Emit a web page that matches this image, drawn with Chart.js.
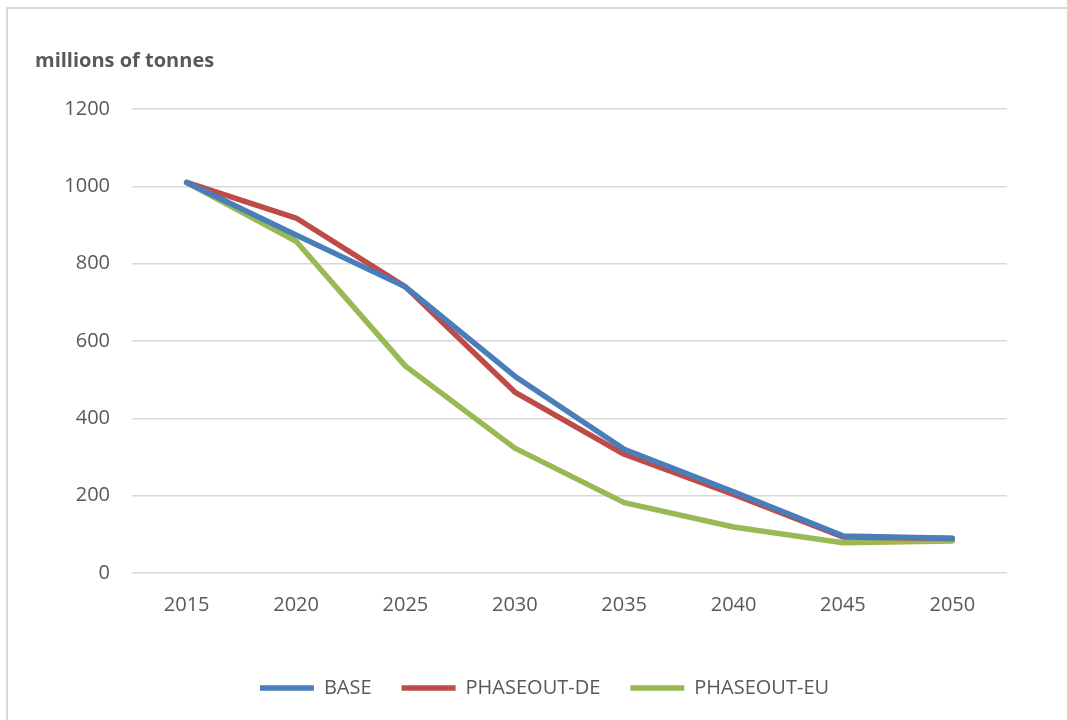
<!DOCTYPE html>
<html>
<head>
<meta charset="utf-8">
<script src="https://cdn.jsdelivr.net/npm/chart.js@4"></script>
<style>
  body { margin: 0; background: #fff; }
  .frame { position: absolute; left: 6px; top: 7px; width: 1100px; height: 760px; border: 2px solid #d9d9d9; }
  .unit { position: absolute; left: 35px; top: 46px; font: bold 20px 'Open Sans', sans-serif; color: #595959; }
  #wrap { position: absolute; left: 0; top: 0; width: 1067px; height: 720px; }
</style>
</head>
<body>
<div class="frame"></div>
<div id="wrap"><canvas id="coal"></canvas></div>
<div class="unit">millions of tonnes</div>
<script>
// anos e cenarios
const years = ['2015', '2020', '2025', '2030', '2035', '2040', '2045', '2050'];
const base = [1010, 874, 740, 509, 320, 210, 96, 90];
const phaseoutDE = [1010, 918, 740, 468, 307, 203, 93, 89];
const phaseoutEU = [1010, 858, 535, 323, 182, 119, 78, 83];
const yTicks = [0, 200, 400, 600, 800, 1000, 1200];

Chart.defaults.font.family = "'Open Sans', sans-serif";
Chart.defaults.font.size = 20;
Chart.defaults.color = '#595959';

function serie(label, data, color) {
    return {
        label: label,
        data: data,
        borderColor: color,
        backgroundColor: color,
        borderWidth: 5.5,
        borderCapStyle: 'round',
        borderJoinStyle: 'round',
        pointRadius: 0,
        pointHoverRadius: 0,
        tension: 0,
        fill: false
    };
}

const ctx = document.getElementById('coal');

new Chart(ctx, {
    type: 'line',
    data: {
        labels: years,
        datasets: [
            serie('BASE', base, '#4a7ebb'),
            serie('PHASEOUT-DE', phaseoutDE, '#be4b48'),
            serie('PHASEOUT-EU', phaseoutEU, '#98b954')
        ]
    },
    options: {
        responsive: true,
        maintainAspectRatio: false,
        animation: false,
        layout: { padding: { top: 109, left: 22, right: 0, bottom: 12 } },
        plugins: {
            tooltip: { enabled: false },
            legend: {
                position: 'bottom',
                labels: {
                    usePointStyle: true,
                    pointStyle: 'line',
                    pointStyleWidth: 54,
                    padding: 30,
                    color: '#595959',
                    font: { size: 20 }
                }
            }
        },
        scales: {
            x: {
                offset: true,
                grid: { display: false, drawTicks: false },
                border: { display: false },
                ticks: { padding: 20, maxRotation: 0 },
                afterFit: (scale) => { scale.height = 75; }
            },
            y: {
                min: 0,
                max: 1200,
                afterBuildTicks: (scale) => { scale.ticks = yTicks.map(v => ({ value: v })); },
                grid: { color: '#d9d9d9', lineWidth: 1.5, drawTicks: false },
                border: { display: false },
                ticks: { padding: 22, callback: (v) => String(v) },
                afterFit: (scale) => { scale.width = 110; }
            },
            // espaco vazio a direita do grafico
            y2: {
                position: 'right',
                grid: { display: false, drawTicks: false },
                border: { display: false },
                ticks: { display: false },
                afterFit: (scale) => { scale.width = 60; }
            }
        }
    }
});
</script>
</body>
</html>
